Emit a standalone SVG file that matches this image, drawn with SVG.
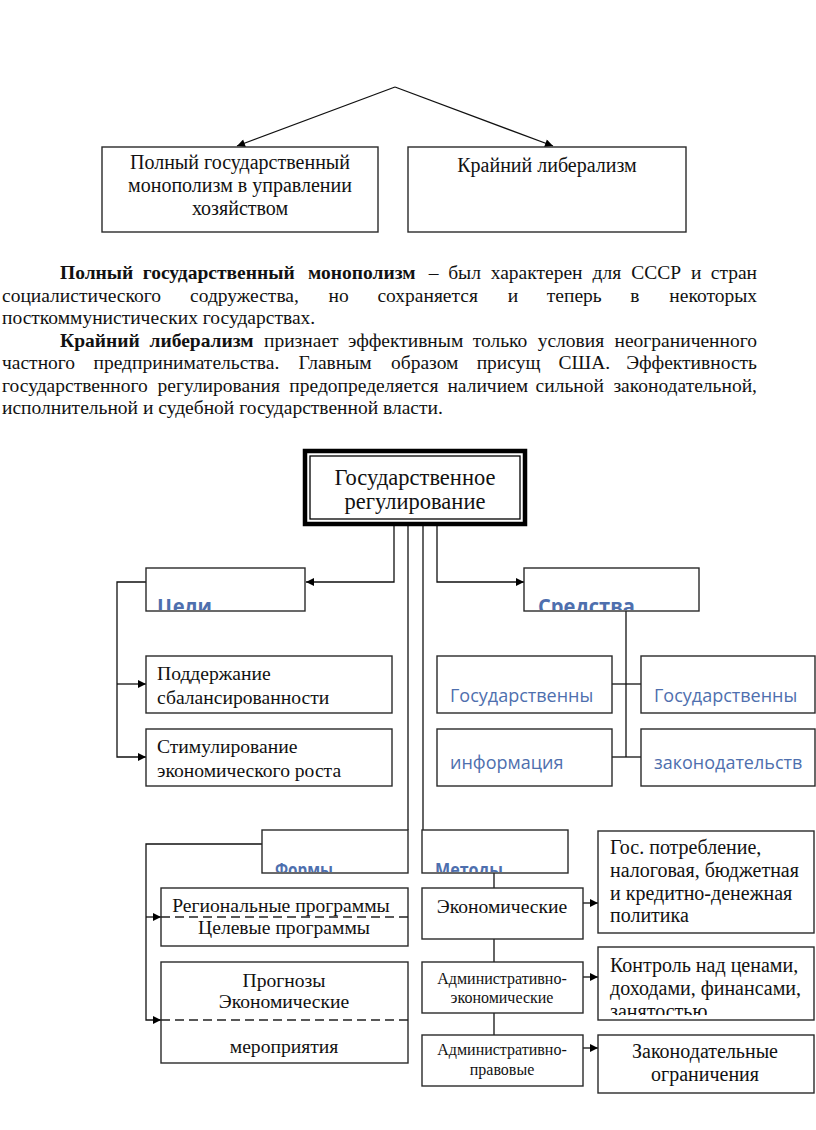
<svg xmlns="http://www.w3.org/2000/svg" width="816" height="1130" viewBox="0 0 816 1130">
<style>
.bx{fill:#fff;stroke:#2a2a2a;stroke-width:1.4}
.ln{fill:none;stroke:#111;stroke-width:1.3}
.ar{fill:none;stroke:#111;stroke-width:1.3;marker-end:url(#ah)}
.ds{fill:none;stroke:#222;stroke-width:1.3;stroke-dasharray:9 5}
.t{font-family:"Liberation Serif","Times New Roman",serif;font-size:20px;fill:#111}
.tl{font-family:"Liberation Serif","Times New Roman",serif;font-size:19.6px;fill:#111}
.p{font-family:"Liberation Serif","Times New Roman",serif;font-size:19.5px;fill:#111}
.b{font-weight:bold}
.sm{font-family:"Liberation Serif","Times New Roman",serif;font-size:16px;fill:#111}
.big{font-family:"Liberation Serif","Times New Roman",serif;font-size:22.5px;fill:#111}
.bl{font-family:"Open Sans","Noto Sans",sans-serif;font-size:18px;fill:#4e6fae}
.blb{font-family:"Open Sans","Noto Sans",sans-serif;font-size:22px;font-weight:bold;fill:#4e6fae}
.blb2{font-family:"Open Sans","Noto Sans",sans-serif;font-size:18px;font-weight:bold;fill:#4e6fae}
.m{text-anchor:middle}
.e{text-anchor:end}
</style>
<defs>
<marker id="ah" viewBox="0 0 10 10" refX="10" refY="5" markerWidth="9" markerHeight="8" markerUnits="userSpaceOnUse" orient="auto"><path d="M0,0 L10,5 L0,10 z" fill="#000"/></marker>
<clipPath id="cCeli"><rect x="146" y="568" width="159" height="42"/></clipPath>
<clipPath id="cSred"><rect x="524" y="568" width="175" height="42"/></clipPath>
<clipPath id="cForm"><rect x="262" y="830" width="146" height="42"/></clipPath>
<clipPath id="cMet"><rect x="422" y="830" width="146" height="42"/></clipPath>
<clipPath id="cKon"><rect x="598" y="947" width="216" height="68"/></clipPath>
</defs>

<g id="connectors">
<path class="ar" d="M395,87 L237,146"/>
<path class="ar" d="M395,87 L553,146"/>
<path class="ar" d="M394,526 V582 H306"/>
<path class="ar" d="M437,526 V582 H524"/>
<path class="ln" d="M408,526 V830"/>
<path class="ln" d="M423,526 V830"/>
<path class="ar" d="M146,582 H117 V757 H146"/>
<path class="ar" d="M117,684 H146"/>
<path class="ln" d="M626,611 V757"/>
<path class="ln" d="M612,684 H641"/>
<path class="ln" d="M612,757 H641"/>
<path class="ar" d="M262,844 H146 V1020 H161"/>
<path class="ar" d="M146,917 H161"/>
<path class="ln" d="M494,873 V888"/>
<path class="ln" d="M494,939 V962"/>
<path class="ln" d="M494,1013 V1035"/>
<path class="ar" d="M583,903 H598"/>
<path class="ar" d="M583,977 H598"/>
<path class="ar" d="M583,1048 H598"/>
</g>

<g id="n-monopol">
<rect class="bx" x="102" y="147" width="276" height="85"/>
<text class="t m" x="240" y="169">Полный государственный</text>
<text class="t m" x="240" y="192">монополизм в управлении</text>
<text class="t m" x="240" y="215">хозяйством</text>
</g>
<g id="n-liberal">
<rect class="bx" x="408" y="147" width="278" height="85"/>
<text class="t m" x="547" y="172">Крайний либерализм</text>
</g>

<g id="paragraph">
<text class="p b" y="279"><tspan x="60">Полный</tspan><tspan x="142.8">государственный</tspan><tspan x="308.1">монополизм</tspan></text>
<text class="p" y="279"><tspan x="428.7">–</tspan><tspan x="448.2">был</tspan><tspan x="490.7">характерен</tspan><tspan x="592.5">для</tspan><tspan x="631.3">СССР</tspan><tspan x="691">и</tspan></text>
<text class="p e" x="757" y="279">стран</text>
<text class="p" y="302"><tspan x="2">социалистического</tspan><tspan x="190.1">содружества,</tspan><tspan x="328.6">но</tspan><tspan x="377.4">сохраняется</tspan><tspan x="507.7">и</tspan><tspan x="546.8">теперь</tspan><tspan x="630.3">в</tspan></text>
<text class="p e" x="757" y="302">некоторых</text>
<text class="p" x="2" y="324">посткоммунистических государствах.</text>
<text class="p b" y="347"><tspan x="60">Крайний</tspan><tspan x="149.5">либерализм</tspan></text>
<text class="p" y="347"><tspan x="264">признает</tspan><tspan x="347.9">эффективным</tspan><tspan x="472.7">только</tspan><tspan x="537.7">условия</tspan></text>
<text class="p e" x="757" y="347">неограниченного</text>
<text class="p" y="369"><tspan x="2">частного</tspan><tspan x="93.5">предпринимательства.</tspan><tspan x="298.4">Главным</tspan><tspan x="391">образом</tspan><tspan x="476.7">присущ</tspan><tspan x="558.6">США.</tspan></text>
<text class="p e" x="757" y="369">Эффективность</text>
<text class="p" y="392"><tspan x="2">государственного</tspan><tspan x="157.6">регулирования</tspan><tspan x="289.3">предопределяется</tspan><tspan x="447.4">наличием</tspan><tspan x="535.6">сильной</tspan></text>
<text class="p e" x="757" y="392">законодательной,</text>
<text class="p" x="2" y="414">исполнительной и судебной государственной власти.</text>
</g>

<g id="n-gosreg">
<rect x="305" y="451" width="220" height="73" fill="#fff" stroke="#000" stroke-width="4.5"/>
<rect x="310" y="456" width="210" height="63" fill="none" stroke="#000" stroke-width="1.3"/>
<text class="big m" x="415" y="485">Государственное</text>
<text class="big m" x="415" y="509">регулирование</text>
</g>

<g id="n-celi">
<rect class="bx" x="146" y="568" width="159" height="43"/>
<text class="blb" x="157" y="614" textLength="55" lengthAdjust="spacingAndGlyphs" clip-path="url(#cCeli)">Цели</text>
</g>
<g id="n-sredstva">
<rect class="bx" x="524" y="568" width="175" height="43"/>
<text class="blb" x="538" y="614" textLength="97" lengthAdjust="spacingAndGlyphs" clip-path="url(#cSred)">Средства</text>
</g>

<g id="n-podderzh">
<rect class="bx" x="146" y="656" width="246" height="57"/>
<text class="tl" x="157" y="680">Поддержание</text>
<text class="tl" x="157" y="704">сбалансированности</text>
</g>
<g id="n-stimul">
<rect class="bx" x="146" y="729" width="246" height="57"/>
<text class="tl" x="157" y="753">Стимулирование</text>
<text class="tl" x="157" y="777">экономического роста</text>
</g>

<g id="n-gos1">
<rect class="bx" x="437" y="656" width="175" height="57"/>
<text class="bl" x="450" y="702">Государственны</text>
</g>
<g id="n-gos2">
<rect class="bx" x="641" y="656" width="174" height="57"/>
<text class="bl" x="654" y="702">Государственны</text>
</g>
<g id="n-inform">
<rect class="bx" x="437" y="729" width="175" height="57"/>
<text class="bl" x="450" y="769">информация</text>
</g>
<g id="n-zakon">
<rect class="bx" x="641" y="729" width="174" height="57"/>
<text class="bl" x="654" y="769">законодательств</text>
</g>

<g id="n-formy">
<rect class="bx" x="262" y="830" width="146" height="43"/>
<text class="blb2" x="275" y="876" textLength="58" lengthAdjust="spacingAndGlyphs" clip-path="url(#cForm)">Формы</text>
</g>
<g id="n-metody">
<rect class="bx" x="422" y="830" width="146" height="43"/>
<text class="blb2" x="435" y="876" textLength="68" lengthAdjust="spacingAndGlyphs" clip-path="url(#cMet)">Методы</text>
</g>

<g id="n-region">
<rect class="bx" x="161" y="888" width="247" height="58"/>
<path class="ds" d="M161,917 H408"/>
<text class="tl m" x="281" y="912">Региональные программы</text>
<text class="tl m" x="284" y="934">Целевые программы</text>
</g>
<g id="n-prognoz">
<rect class="bx" x="161" y="962" width="247" height="101"/>
<path class="ds" d="M161,1020 H408"/>
<text class="tl m" x="284" y="987">Прогнозы</text>
<text class="tl m" x="284" y="1008">Экономические</text>
<text class="tl m" x="284" y="1053">мероприятия</text>
</g>

<g id="n-econ">
<rect class="bx" x="422" y="888" width="161" height="51"/>
<text class="tl m" x="502" y="913">Экономические</text>
</g>
<g id="n-admecon">
<rect class="bx" x="422" y="962" width="161" height="51"/>
<text class="sm m" x="502" y="984">Административно-</text>
<text class="sm m" x="502" y="1003">экономические</text>
</g>
<g id="n-admprav">
<rect class="bx" x="422" y="1035" width="161" height="51"/>
<text class="sm m" x="502" y="1055">Административно-</text>
<text class="sm m" x="502" y="1075">правовые</text>
</g>

<g id="n-gospotr">
<rect class="bx" x="598" y="831" width="216" height="102"/>
<text class="t" x="610" y="854">Гос. потребление,</text>
<text class="t" x="610" y="877">налоговая, бюджетная</text>
<text class="t" x="610" y="900">и кредитно-денежная</text>
<text class="t" x="610" y="922">политика</text>
</g>
<g id="n-kontrol">
<rect class="bx" x="598" y="947" width="216" height="73"/>
<g clip-path="url(#cKon)">
<text class="t" x="610" y="972">Контроль над ценами,</text>
<text class="t" x="610" y="995">доходами, финансами,</text>
<text class="t" x="610" y="1018">занятостью</text>
</g>
</g>
<g id="n-zakogr">
<rect class="bx" x="598" y="1035" width="216" height="58"/>
<text class="t m" x="705" y="1058">Законодательные</text>
<text class="t m" x="705" y="1081">ограничения</text>
</g>
</svg>
